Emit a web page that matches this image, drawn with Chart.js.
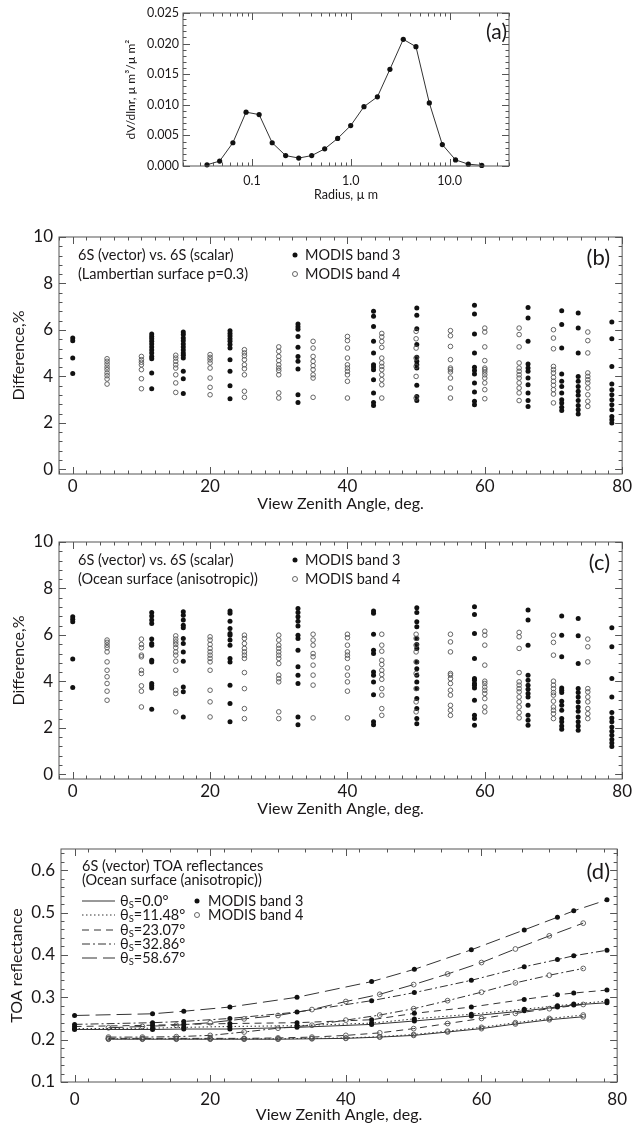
<!DOCTYPE html>
<html>
<head>
<meta charset="utf-8">
<title>6S vector vs scalar</title>
<script src="https://cdn.jsdelivr.net/npm/chart.js@4.4.1/dist/chart.umd.min.js"></script>
<style>
  html, body { margin: 0; padding: 0; background: #fff; }
  #page { position: relative; width: 634px; height: 1124px; overflow: hidden; }
  #page canvas { position: absolute; left: 0; }
</style>
</head>
<body>
<div id="page">
  <canvas id="chartA" width="634" height="212" style="top:0px"></canvas>
  <canvas id="chartB" width="634" height="300" style="top:215px"></canvas>
  <canvas id="chartC" width="634" height="300" style="top:520px"></canvas>
  <canvas id="chartD" width="634" height="299" style="top:825px"></canvas>
</div>
<script>
// ---- (a) size distribution ----
const radius = [0.035, 0.047, 0.064, 0.087, 0.118, 0.160, 0.219, 0.297, 0.402, 0.544, 0.736,
                0.998, 1.36, 1.86, 2.49, 3.40, 4.57, 6.24, 8.45, 11.5, 15.5, 21.2];
const volume = [0.0002, 0.0008, 0.0038, 0.0088, 0.0084, 0.0038, 0.0017, 0.0013, 0.0017, 0.0028, 0.0045,
                0.0066, 0.0097, 0.0113, 0.0158, 0.0207, 0.0195, 0.0103, 0.0035, 0.0010, 0.0003, 0.0001];
const radiusTicks = [0.1, 1, 10];
const radiusTickLabels = ['0.1', '1.0', '10.0'];
const volumeTicks = [0, 0.005, 0.010, 0.015, 0.020, 0.025];
const volumeTickLabels = ['0.000', '0.005', '0.010', '0.015', '0.020', '0.025'];

// ---- view zenith angles shared by (b), (c), (d) ----
const band3Angles = [0, 11.5, 16.1, 22.9, 32.8, 43.8, 50.1, 58.5, 66.3, 71.2, 73.6, 78.5];
const band4Angles = [5, 10, 15, 20, 25, 30, 35, 40, 45, 50, 55, 60, 65, 70, 75];
const angleTicks = [0, 20, 40, 60, 80];
const angleTickLabels = ['0', '20', '40', '60', '80'];
const diffTicks = [0, 2, 4, 6, 8, 10];
const diffTickLabels = ['0', '2', '4', '6', '8', '10'];

// ---- (b) Lambertian surface, difference % per column ----
const lamb3 = [
  [5.65, 5.54, 4.79, 4.12],
  [5.82, 5.72, 5.62, 5.51, 5.39, 5.27, 5.14, 5.01, 4.86, 4.76, 4.15, 3.47],
  [5.91, 5.80, 5.65, 5.54, 5.39, 5.27, 5.14, 5.01, 4.91, 4.79, 4.22, 3.90, 3.26],
  [5.97, 5.85, 5.74, 5.62, 5.51, 5.37, 5.22, 4.72, 4.22, 3.60, 3.04],
  [6.26, 6.14, 6.03, 5.72, 5.25, 4.86, 4.65, 4.32, 3.21, 2.88],
  [6.80, 6.59, 6.15, 5.51, 5.01, 4.50, 4.40, 4.29, 3.86, 3.29, 2.88, 2.75],
  [6.94, 6.63, 6.05, 5.37, 4.82, 4.65, 4.50, 4.36, 3.62, 3.14, 2.96],
  [7.06, 6.69, 5.82, 5.01, 4.39, 4.25, 4.10, 3.72, 3.33, 2.93, 2.78],
  [6.97, 6.51, 5.51, 4.53, 4.36, 4.22, 3.93, 3.64, 3.29, 2.96, 2.71],
  [6.83, 6.23, 5.22, 4.10, 3.79, 3.57, 3.29, 3.00, 2.86, 2.67, 2.53],
  [6.73, 6.08, 5.01, 4.00, 3.79, 3.57, 3.36, 3.19, 2.96, 2.75, 2.57, 2.38],
  [6.34, 5.62, 4.43, 3.67, 3.43, 3.21, 3.00, 2.78, 2.57, 2.28, 2.14, 1.99]
];
const lamb4 = [
  [4.76, 4.65, 4.53, 4.40, 4.29, 4.15, 4.03, 3.89, 3.67],
  [4.86, 4.72, 4.61, 4.50, 4.29, 3.90, 3.47],
  [4.91, 4.79, 4.65, 4.50, 4.36, 4.07, 3.72, 3.31],
  [4.94, 4.82, 4.71, 4.58, 4.36, 3.93, 3.53, 3.21],
  [5.15, 5.01, 4.89, 4.72, 4.50, 4.33, 4.07, 3.36, 3.10],
  [5.27, 5.08, 4.86, 4.68, 4.50, 4.36, 4.25, 4.07, 3.29, 3.07],
  [5.51, 5.22, 4.86, 4.65, 4.46, 4.29, 4.07, 3.93, 3.10],
  [5.72, 5.54, 5.22, 4.79, 4.50, 4.36, 4.22, 4.07, 3.79, 3.07],
  [5.85, 5.70, 5.50, 5.25, 4.79, 4.58, 4.43, 4.29, 4.07, 3.86, 3.64, 3.07],
  [5.94, 5.62, 5.22, 4.79, 4.43, 4.00, 3.07],
  [5.97, 5.75, 5.29, 4.72, 4.36, 4.29, 4.19, 3.93, 3.50, 3.07],
  [6.08, 5.91, 5.27, 4.68, 4.36, 4.29, 4.19, 4.07, 3.93, 3.72, 3.43, 3.04],
  [6.08, 5.80, 5.27, 4.58, 4.36, 4.22, 4.07, 3.93, 3.72, 3.50, 3.29, 2.96],
  [6.01, 5.65, 5.19, 4.43, 4.29, 4.15, 3.96, 3.79, 3.62, 3.43, 3.24, 2.86],
  [5.91, 5.54, 5.01, 4.15, 4.00, 3.86, 3.72, 3.50, 3.21, 2.93, 2.71]
];

// ---- (c) ocean surface, difference % per column ----
const ocean3 = [
  [6.78, 6.67, 6.57, 4.96, 3.74],
  [6.97, 6.82, 6.64, 6.49, 5.82, 5.63, 5.56, 4.91, 4.84, 3.91, 3.81, 3.72, 2.80],
  [7.00, 6.85, 6.64, 6.42, 6.31, 5.85, 5.63, 5.27, 4.87, 3.76, 3.55, 2.47],
  [7.03, 6.93, 6.59, 6.28, 6.06, 5.99, 5.78, 5.56, 4.99, 4.84, 3.84, 3.05, 2.26],
  [7.14, 6.97, 6.78, 6.59, 6.39, 5.99, 5.85, 5.34, 4.63, 4.27, 3.91, 2.47, 2.14],
  [7.03, 6.93, 6.03, 5.34, 5.20, 4.41, 4.27, 3.98, 3.43, 2.26, 2.14],
  [7.17, 6.97, 6.57, 6.35, 5.85, 5.59, 5.42, 4.84, 4.55, 4.27, 3.98, 3.69, 3.26, 2.83, 2.40, 2.18],
  [7.21, 6.88, 6.06, 4.99, 4.12, 4.05, 3.91, 3.84, 3.72, 3.19, 2.54, 2.40, 2.11],
  [7.07, 6.64, 5.56, 4.27, 4.05, 3.84, 3.66, 3.48, 3.33, 2.97, 2.54, 2.33, 2.11],
  [6.82, 5.99, 5.06, 3.72, 3.62, 3.52, 3.15, 2.97, 2.76, 2.40, 2.26, 2.08, 1.94],
  [6.71, 5.96, 4.77, 3.69, 3.52, 3.33, 3.12, 2.90, 2.72, 2.47, 2.26, 2.08, 1.90],
  [6.31, 5.49, 4.12, 3.33, 2.66, 2.43, 2.26, 2.04, 1.85, 1.68, 1.50, 1.35, 1.20]
];
const ocean4 = [
  [5.78, 5.68, 5.56, 5.45, 5.27, 4.84, 4.48, 4.20, 3.91, 3.58, 3.19],
  [5.82, 5.59, 5.45, 5.13, 5.06, 4.48, 4.34, 3.81, 3.58, 2.90],
  [5.96, 5.82, 5.70, 5.59, 5.45, 5.27, 5.13, 4.87, 4.48, 3.62, 3.48, 2.69],
  [5.92, 5.78, 5.59, 5.42, 5.27, 5.13, 4.99, 4.84, 4.48, 3.62, 3.12, 2.47],
  [5.99, 5.85, 5.63, 5.42, 5.27, 5.13, 4.99, 4.38, 3.69, 2.83, 2.40],
  [5.99, 5.78, 5.56, 5.42, 5.27, 5.13, 4.99, 4.77, 4.27, 4.12, 3.98, 2.69, 2.40],
  [6.03, 5.78, 5.56, 5.20, 5.06, 4.70, 4.27, 3.84, 2.43],
  [6.03, 5.88, 5.56, 5.27, 5.13, 4.99, 4.58, 4.27, 3.98, 3.58, 2.43],
  [6.03, 5.56, 5.30, 4.91, 4.73, 4.48, 4.30, 4.09, 3.69, 3.41, 2.83, 2.54],
  [6.03, 5.85, 5.56, 5.27, 4.84, 4.34, 3.69, 3.12, 2.69],
  [6.03, 5.70, 5.27, 4.34, 4.27, 4.12, 3.91, 3.62, 3.41, 2.97, 2.76, 2.54],
  [6.16, 5.99, 5.56, 4.70, 4.01, 3.91, 3.76, 3.62, 3.48, 3.26, 2.90, 2.69],
  [6.11, 5.92, 5.42, 4.38, 3.98, 3.84, 3.69, 3.55, 3.33, 3.12, 2.90, 2.66, 2.43],
  [5.99, 5.68, 5.13, 4.01, 3.84, 3.69, 3.52, 3.41, 3.15, 2.90, 2.76, 2.61, 2.40],
  [5.82, 5.49, 4.84, 3.69, 3.55, 3.33, 3.12, 2.83, 2.61, 2.40]
];

// ---- (d) TOA reflectances, one row per solar zenith angle ----
const solarZenith = ['0.0', '11.48', '23.07', '32.86', '58.67'];
const toaBand3 = [
  [0.224, 0.224, 0.225, 0.225, 0.229, 0.236, 0.244, 0.256, 0.268, 0.277, 0.282, 0.287],
  [0.226, 0.227, 0.229, 0.231, 0.233, 0.239, 0.249, 0.260, 0.272, 0.280, 0.284, 0.291],
  [0.231, 0.234, 0.236, 0.238, 0.240, 0.247, 0.262, 0.277, 0.295, 0.306, 0.310, 0.317],
  [0.236, 0.240, 0.243, 0.250, 0.265, 0.292, 0.311, 0.340, 0.372, 0.389, 0.398, 0.411],
  [0.257, 0.261, 0.267, 0.277, 0.300, 0.337, 0.366, 0.412, 0.459, 0.489, 0.504, 0.530]
];
const toaBand4 = [
  [0.201, 0.201, 0.201, 0.201, 0.201, 0.201, 0.202, 0.203, 0.206, 0.210, 0.218, 0.226, 0.237, 0.247, 0.254],
  [0.202, 0.202, 0.202, 0.202, 0.202, 0.202, 0.203, 0.204, 0.207, 0.212, 0.220, 0.229, 0.240, 0.250, 0.258],
  [0.203, 0.203, 0.203, 0.203, 0.203, 0.204, 0.206, 0.210, 0.216, 0.226, 0.238, 0.250, 0.262, 0.273, 0.283],
  [0.206, 0.206, 0.207, 0.210, 0.218, 0.227, 0.234, 0.246, 0.258, 0.273, 0.292, 0.312, 0.334, 0.352, 0.368],
  [0.228, 0.231, 0.234, 0.240, 0.249, 0.257, 0.271, 0.290, 0.307, 0.330, 0.355, 0.382, 0.414, 0.445, 0.475]
];
const toaTicks = [0.1, 0.2, 0.3, 0.4, 0.5, 0.6];
const toaTickLabels = ['0.1', '0.2', '0.3', '0.4', '0.5', '0.6'];

// ---- styles ----
const FONT = "Lato, 'DejaVu Sans', sans-serif";
const TXT = '#1a1718';
const AXIS = '#555';
const lineDashes = [[], [1.5, 2.5], [7, 5], [8, 3, 2, 3], [15, 6]];
Chart.defaults.font.family = FONT;
Chart.defaults.color = TXT;

function steps(from, to, step, skip) {
  const out = [];
  for (let v = from; v <= to + 1e-9; v += step) {
    const r = Math.round(v * 1e6) / 1e6;
    if (!skip || !skip.some(s => Math.abs(s - r) < 1e-9)) out.push(r);
  }
  return out;
}

// rich text: parts with optional subscript
function drawParts(ctx, parts, x, y, size, align) {
  let total = 0;
  parts.forEach(p => {
    ctx.font = (p.sub ? size * 0.65 : size) + 'px ' + FONT;
    total += ctx.measureText(p.t).width;
  });
  let cx = align === 'right' ? x - total : x;
  ctx.textAlign = 'left';
  ctx.textBaseline = 'middle';
  parts.forEach(p => {
    ctx.font = (p.sub ? size * 0.65 : size) + 'px ' + FONT;
    ctx.fillText(p.t, cx, y + (p.sub ? size * 0.3 : 0));
    cx += ctx.measureText(p.t).width;
  });
}

// box, inward ticks on all four sides, in-plot annotations
const frame = {
  id: 'frame',
  afterDraw(chart, args, o) {
    const ctx = chart.ctx, a = chart.chartArea;
    const sx = chart.scales.x, sy = chart.scales.y;
    ctx.save();
    ctx.strokeStyle = AXIS;
    ctx.lineWidth = 1;
    ctx.setLineDash([]);
    ctx.strokeRect(a.left, a.top, a.right - a.left, a.bottom - a.top);
    ctx.beginPath();
    const xt = (vals, len) => vals.forEach(v => {
      const p = Math.round(sx.getPixelForValue(v)) + 0.5;
      ctx.moveTo(p, a.bottom); ctx.lineTo(p, a.bottom - len);
      ctx.moveTo(p, a.top); ctx.lineTo(p, a.top + len);
    });
    const yt = (vals, len) => vals.forEach(v => {
      const p = Math.round(sy.getPixelForValue(v)) + 0.5;
      ctx.moveTo(a.left, p); ctx.lineTo(a.left + len, p);
      ctx.moveTo(a.right, p); ctx.lineTo(a.right - len, p);
    });
    xt(o.xMajor, 7); xt(o.xMinor, 3.5);
    yt(o.yMajor, 7); yt(o.yMinor, 3.5);
    ctx.stroke();

    ctx.fillStyle = TXT;
    (o.texts || []).forEach(t => drawParts(ctx, t.parts, t.x, t.y, t.size, t.align));

    (o.samples || []).forEach(s => {
      ctx.strokeStyle = '#333';
      ctx.lineWidth = 1;
      ctx.setLineDash(s.dash);
      ctx.beginPath();
      ctx.moveTo(s.x1, s.y); ctx.lineTo(s.x2, s.y);
      ctx.stroke();
    });
    ctx.setLineDash([]);
    (o.markers || []).forEach(m => {
      ctx.beginPath();
      ctx.arc(m.x, m.y, 2.5, 0, Math.PI * 2);
      if (m.filled) { ctx.fillStyle = '#111'; ctx.fill(); }
      else { ctx.strokeStyle = '#555'; ctx.lineWidth = 0.9; ctx.stroke(); }
    });
    ctx.restore();
  }
};

function txt(text, x, y, size, align) {
  return { parts: [{ t: text }], x: x, y: y, size: size, align: align };
}

function baseScale(extra) {
  return Object.assign({
    grid: { display: false, drawTicks: false },
    border: { display: false }
  }, extra);
}

// ---------------- (a) ----------------
new Chart(document.getElementById('chartA'), {
  type: 'scatter',
  data: {
    datasets: [{
      data: radius.map((r, i) => ({ x: r, y: volume[i] })),
      showLine: true,
      borderColor: '#333',
      borderWidth: 1,
      pointRadius: 2.6,
      pointBackgroundColor: '#111',
      pointBorderColor: '#111',
      pointBorderWidth: 0,
      clip: false
    }]
  },
  options: {
    responsive: false,
    animation: false,
    layout: { padding: { top: 13, left: 124, right: 125, bottom: 10 } },
    plugins: {
      legend: { display: false },
      tooltip: { enabled: false },
      frame: {
        xMajor: radiusTicks,
        xMinor: [0.02, 0.03, 0.04, 0.05, 0.06, 0.07, 0.08, 0.09, 0.2, 0.3, 0.4, 0.5, 0.6, 0.7, 0.8, 0.9,
                 2, 3, 4, 5, 6, 7, 8, 9, 20, 30, 40],
        yMajor: volumeTicks,
        yMinor: steps(0, 0.025, 0.001, volumeTicks),
        texts: [txt('(a)', 507, 32, 21, 'right')]
      }
    },
    scales: {
      x: baseScale({
        type: 'logarithmic', min: 0.02, max: 40,
        afterBuildTicks: s => { s.ticks = radiusTicks.map(v => ({ value: v })); },
        afterFit: s => { s.height = 36; },
        ticks: { padding: 7, autoSkip: false, maxRotation: 0, font: { size: 12.5 }, color: TXT,
                 callback: (v, i) => radiusTickLabels[i] },
        title: { display: true, text: 'Radius, µ m', padding: 0, font: { size: 12.5 }, color: TXT }
      }),
      y: baseScale({
        type: 'linear', min: 0, max: 0.025,
        afterBuildTicks: s => { s.ticks = volumeTicks.map(v => ({ value: v })); },
        afterFit: s => { s.width = 59; },
        ticks: { padding: 4, font: { size: 12.5 }, color: TXT, callback: (v, i) => volumeTickLabels[i] },
        title: { display: true, text: 'dV/dlnr, µ m³/µ m²', padding: 0, font: { size: 12 }, color: TXT }
      })
    }
  },
  plugins: [frame]
});

// ---------------- (b) and (c) ----------------
function columns(angles, cols) {
  return angles.flatMap((a, i) => cols[i].map(v => ({ x: a, y: v })));
}

function diffChart(id, band3, band4, line2, label) {
  new Chart(document.getElementById(id), {
    type: 'scatter',
    data: {
      datasets: [{
        label: 'MODIS band 4',
        data: columns(band4Angles, band4),
        pointRadius: 2.3,
        pointBackgroundColor: 'rgba(0,0,0,0)',
        pointBorderColor: '#555',
        pointBorderWidth: 0.9,
        clip: false
      }, {
        label: 'MODIS band 3',
        data: columns(band3Angles, band3),
        pointRadius: 2.5,
        pointBackgroundColor: '#111',
        pointBorderColor: '#111',
        pointBorderWidth: 0,
        clip: false
      }]
    },
    options: {
      responsive: false,
      animation: false,
      layout: { padding: { top: 22, left: 9, right: 11, bottom: 2 } },
      plugins: {
        legend: { display: false },
        tooltip: { enabled: false },
        frame: {
          xMajor: angleTicks,
          xMinor: steps(-2, 80, 2, angleTicks),
          yMajor: diffTicks,
          yMinor: steps(0, 10, 0.4, diffTicks),
          texts: [
            txt('6S (vector) vs. 6S (scalar)', 78, 40, 14.5),
            txt(line2, 78, 59, 14.5),
            txt('MODIS band 3', 305, 40, 14.5),
            txt('MODIS band 4', 305, 59, 14.5),
            txt(label, 610, 43, 22, 'right')
          ],
          markers: [{ x: 295, y: 40, filled: true }, { x: 295, y: 59, filled: false }]
        }
      },
      scales: {
        x: baseScale({
          type: 'linear', min: -2, max: 80,
          afterBuildTicks: s => { s.ticks = angleTicks.map(v => ({ value: v })); },
          afterFit: s => { s.height = 39; },
          ticks: { padding: 2, autoSkip: false, maxRotation: 0, font: { size: 17 }, color: TXT,
                   callback: (v, i) => angleTickLabels[i] },
          title: { display: true, text: 'View Zenith Angle, deg.', padding: 0, font: { size: 16 }, color: TXT }
        }),
        y: baseScale({
          type: 'linear', min: -0.2, max: 10,
          afterBuildTicks: s => { s.ticks = diffTicks.map(v => ({ value: v })); },
          afterFit: s => { s.width = 50; },
          ticks: { padding: 6, font: { size: 17 }, color: TXT, callback: (v, i) => diffTickLabels[i] },
          title: { display: true, text: 'Difference,%', padding: 0, font: { size: 16 }, color: TXT }
        })
      }
    },
    plugins: [frame]
  });
}

diffChart('chartB', lamb3, lamb4, '(Lambertian surface p=0.3)', '(b)');
diffChart('chartC', ocean3, ocean4, '(Ocean surface (anisotropic))', '(c)');

// ---------------- (d) ----------------
const toaSets = [];
solarZenith.forEach((sz, i) => {
  toaSets.push({
    label: 'band 3, θs=' + sz,
    data: band3Angles.map((a, j) => ({ x: a, y: toaBand3[i][j] })),
    showLine: true, borderColor: '#333', borderWidth: 1, borderDash: lineDashes[i],
    pointRadius: 2.5, pointBackgroundColor: '#111', pointBorderColor: '#111', pointBorderWidth: 0,
    clip: false
  });
  toaSets.push({
    label: 'band 4, θs=' + sz,
    data: band4Angles.map((a, j) => ({ x: a, y: toaBand4[i][j] })),
    showLine: true, borderColor: '#333', borderWidth: 1, borderDash: lineDashes[i],
    pointRadius: 2.4, pointBackgroundColor: 'rgba(0,0,0,0)', pointBorderColor: '#555', pointBorderWidth: 0.9,
    clip: false
  });
});

const legendRows = [76, 90, 105, 119, 133];
new Chart(document.getElementById('chartD'), {
  type: 'scatter',
  data: { datasets: toaSets },
  options: {
    responsive: false,
    animation: false,
    layout: { padding: { top: 24, left: 7, right: 9, bottom: 0 } },
    plugins: {
      legend: { display: false },
      tooltip: { enabled: false },
      frame: {
        xMajor: angleTicks,
        xMinor: steps(-2, 80, 4, angleTicks).filter(v => v >= 0),
        yMajor: toaTicks,
        yMinor: steps(0.1, 0.64, 0.02, toaTicks),
        texts: [
          txt('6S (vector) TOA reflectances', 82, 41, 14.5),
          txt('(Ocean surface (anisotropic))', 82, 55, 14.5),
          txt('MODIS band 3', 208, 76, 14.5),
          txt('MODIS band 4', 208, 90, 14.5),
          txt('(d)', 610, 47, 22, 'right')
        ].concat(solarZenith.map((sz, i) => ({
          parts: [{ t: 'θ' }, { t: 'S', sub: true }, { t: '=' + sz + '°' }],
          x: 120, y: legendRows[i], size: 14.5
        }))),
        samples: solarZenith.map((sz, i) => ({ x1: 82, x2: 115, y: legendRows[i], dash: lineDashes[i] })),
        markers: [{ x: 197, y: 76, filled: true }, { x: 197, y: 90, filled: false }]
      }
    },
    scales: {
      x: baseScale({
        type: 'linear', min: -2, max: 80,
        afterBuildTicks: s => { s.ticks = angleTicks.map(v => ({ value: v })); },
        afterFit: s => { s.height = 42; },
        ticks: { padding: 7, autoSkip: false, maxRotation: 0, font: { size: 17 }, color: TXT,
                 callback: (v, i) => angleTickLabels[i] },
        title: { display: true, text: 'View Zenith Angle, deg.', padding: 0, font: { size: 16 }, color: TXT }
      }),
      y: baseScale({
        type: 'linear', min: 0.1, max: 0.65,
        afterBuildTicks: s => { s.ticks = toaTicks.map(v => ({ value: v })); },
        afterFit: s => { s.width = 54; },
        ticks: { padding: 6, font: { size: 17 }, color: TXT, callback: (v, i) => toaTickLabels[i] },
        title: { display: true, text: 'TOA reflectance', padding: 0, font: { size: 16 }, color: TXT }
      })
    }
  },
  plugins: [frame]
});
</script>
</body>
</html>
